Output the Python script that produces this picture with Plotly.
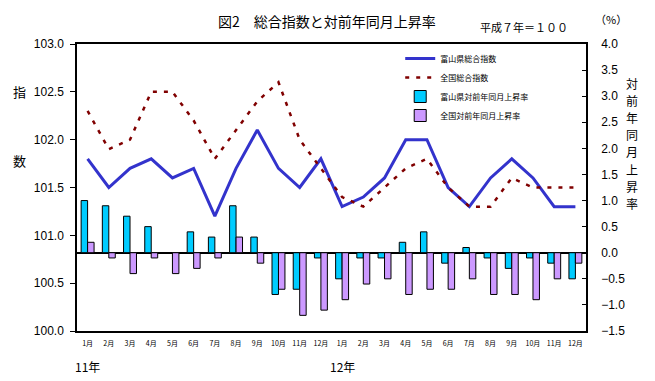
import plotly.graph_objects as go

months = ["1月", "2月", "3月", "4月", "5月", "6月", "7月", "8月", "9月", "10月", "11月", "12月"] * 2
years = ["11年", "12年"]

toyama_index = [101.8, 101.5, 101.7, 101.8, 101.6, 101.7, 101.2, 101.7, 102.1, 101.7, 101.5, 101.8,
                101.3, 101.4, 101.6, 102.0, 102.0, 101.5, 101.3, 101.6, 101.8, 101.6, 101.3, 101.3]
national_index = [102.3, 101.9, 102.0, 102.5, 102.5, 102.2, 101.8, 102.1, 102.4, 102.6, 102.0, 101.7,
                  101.4, 101.3, 101.5, 101.7, 101.8, 101.5, 101.3, 101.3, 101.6, 101.5, 101.5, 101.5]
toyama_rate = [1.0, 0.9, 0.7, 0.5, 0.0, 0.4, 0.3, 0.9, 0.3, -0.8, -0.7, -0.1,
               -0.5, -0.1, -0.1, 0.2, 0.4, -0.2, 0.1, -0.1, -0.3, -0.1, -0.2, -0.5]
national_rate = [0.2, -0.1, -0.4, -0.1, -0.4, -0.3, -0.1, 0.3, -0.2, -0.7, -1.2, -1.1,
                 -0.9, -0.6, -0.5, -0.8, -0.7, -0.7, -0.5, -0.8, -0.8, -0.9, -0.5, -0.2]

x = list(range(len(months)))
JP = "Noto Sans CJK JP"

fig = go.Figure()
fig.add_trace(go.Scatter(x=x, y=toyama_index, name="富山県総合指数", mode="lines",
                         line=dict(color="#3333CC", width=3), yaxis="y2",
                         legendgroup="a", legendrank=1))
fig.add_trace(go.Scatter(x=x, y=national_index, name="全国総合指数", mode="lines",
                         line=dict(color="#800000", width=2.5, dash="4px,7px"), yaxis="y2",
                         legendgroup="b", legendrank=2))
fig.add_trace(go.Bar(x=x, y=toyama_rate, name="富山県対前年同月上昇率",
                     marker=dict(color="#00CCFF", line=dict(color="black", width=1)),
                     yaxis="y", legendgroup="c", legendrank=3))
fig.add_trace(go.Bar(x=x, y=national_rate, name="全国対前年同月上昇率",
                     marker=dict(color="#CC99FF", line=dict(color="black", width=1)),
                     yaxis="y", legendgroup="d", legendrank=4))

fig.update_layout(
    width=655, height=381,
    margin=dict(l=77, r=69, t=44, b=50),
    paper_bgcolor="white", plot_bgcolor="white",
    barmode="group", bargap=0.39, bargroupgap=0,
    showlegend=True,
    legend=dict(x=0.635, y=1.0, xanchor="left", yanchor="top",
                font=dict(family=JP, size=8, color="black"),
                bgcolor="rgba(0,0,0,0)", tracegroupgap=0, traceorder="grouped"),
    xaxis=dict(range=[-0.5, 23.5], tickvals=x, ticktext=months, showline=True, mirror=True,
               linecolor="black", linewidth=1.5, showgrid=False, zeroline=False, ticks="",
               tickfont=dict(family=JP, size=7, color="black"), ticklabelstandoff=5),
    yaxis=dict(range=[-1.5, 4.0], side="right", dtick=0.5, tickformat=".1f",
               showline=True, linecolor="black", linewidth=1.5, showgrid=False,
               zeroline=True, zerolinecolor="black", zerolinewidth=1.5,
               ticks="inside", ticklen=4, tickcolor="black",
               tickfont=dict(family="Arial", size=12, color="black"), ticklabelstandoff=11),
    yaxis2=dict(range=[100, 103], side="left", overlaying="y", dtick=0.5, tickformat=".1f",
                showline=True, linecolor="black", linewidth=1.5, showgrid=False, zeroline=False,
                ticks="outside", ticklen=5, tickcolor="black",
                tickfont=dict(family="Arial", size=12, color="black"), ticklabelstandoff=4),
)

annotations = [
    dict(text="図2　総合指数と対前年同月上昇率", x=327, y=21, size=14),
    dict(text="平成７年＝１００", x=524, y=27, size=11),
    dict(text="（%）", x=611, y=19, size=11),
    dict(text="指", x=19, y=92, size=13),
    dict(text="数", x=19, y=160, size=13),
]
for k, ch in enumerate("対前年同月上昇率"):
    annotations.append(dict(text=ch, x=632, y=83 + 17.2 * k, size=12))
for a in annotations:
    fig.add_annotation(text=a["text"], xref="paper", yref="paper",
                       x=(a["x"] - 77) / 509, y=(331 - a["y"]) / 287,
                       xanchor="center", yanchor="middle", showarrow=False, borderpad=0,
                       font=dict(family=JP, color="black", size=a["size"]))
for i, yr in enumerate(years):
    fig.add_annotation(text=yr, xref="x", x=12 * i, yref="paper", y=(331 - 366) / 287,
                       xanchor="center", yanchor="middle", showarrow=False,
                       font=dict(family=JP, size=12, color="black"))

fig.write_html("out.html", config={"displayModeBar": False},
               post_script="document.body.style.margin='0';")
